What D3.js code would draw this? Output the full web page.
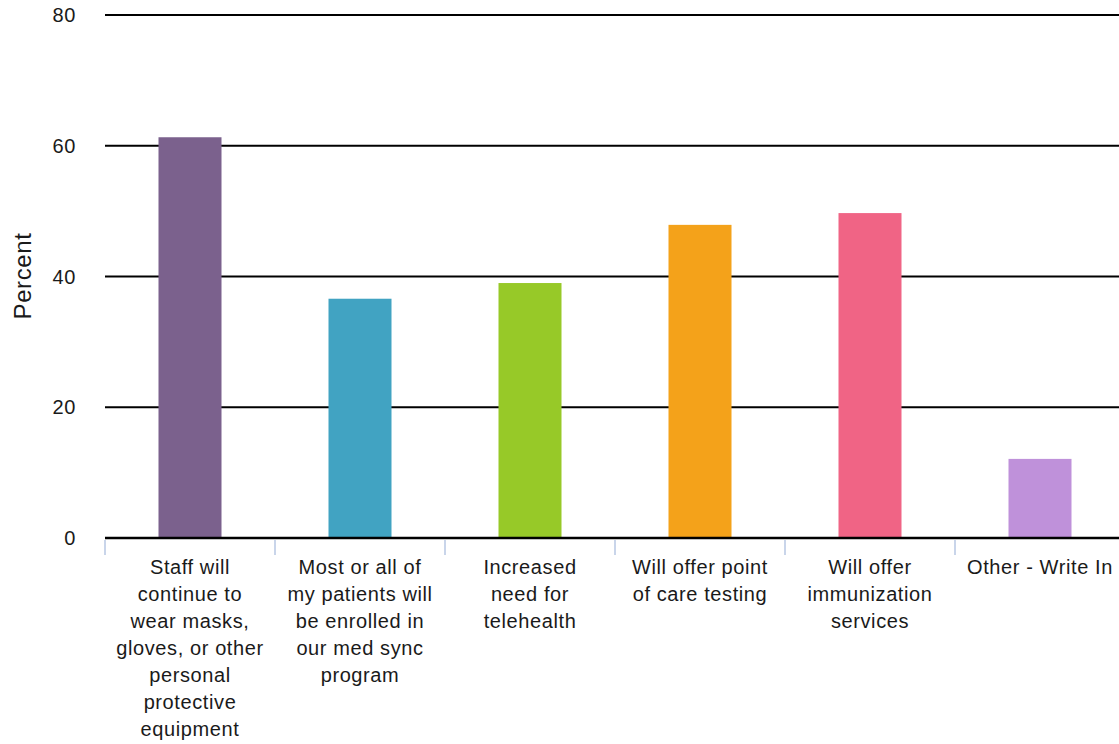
<!DOCTYPE html>
<html>
<head>
<meta charset="utf-8">
<script src="https://cdn.jsdelivr.net/npm/d3@7"></script>
<style>
  body { margin: 0; background: #fff; }
  svg text { font-family: "Liberation Sans", Arial, sans-serif; fill: #1a1a1a; }
</style>
</head>
<body>
<div id="viz"></div>
<script>
// categories (line breaks as in the picture)
var categories = [
  "Staff will\ncontinue to\nwear masks,\ngloves, or other\npersonal\nprotective\nequipment",
  "Most or all of\nmy patients will\nbe enrolled in\nour med sync\nprogram",
  "Increased\nneed for\ntelehealth",
  "Will offer point\nof care testing",
  "Will offer\nimmunization\nservices",
  "Other - Write In"
]
var percents = [61.3, 36.6, 39.0, 47.9, 49.7, 12.1]
var barColors = ["#7b618d", "#41a3c2", "#97c928", "#f4a21a", "#f06485", "#bf91da"]
var yTicks = [0, 20, 40, 60, 80]

function barChart() {
  let width = 1119, height = 744
  let left = 105, top = 15, bottom = 538

  let svg = d3.select('#viz').append('svg')
    .attr('width', width)
    .attr('height', height)

  let xScale = d3.scaleBand()
    .range([left, left + 170 * categories.length])
    .domain(categories)
    .padding(0)

  let yScale = d3.scaleLinear()
    .range([bottom, top])
    .domain([0, 80])

  // horizontal grid lines
  svg.append('g')
    .selectAll('line')
    .data(yTicks)
    .enter()
    .append('line')
    .attr('x1', left)
    .attr('x2', width)
    .attr('y1', (d) => yScale(d))
    .attr('y2', (d) => yScale(d))
    .attr('stroke', '#000')
    .attr('stroke-width', 2)

  // y tick labels
  svg.append('g')
    .selectAll('text')
    .data(yTicks)
    .enter()
    .append('text')
    .attr('x', 76)
    .attr('y', (d) => yScale(d))
    .attr('dy', '0.35em')
    .attr('text-anchor', 'end')
    .style('font-size', '20px')
    .style('letter-spacing', '0.6px')
    .text((d) => d)

  // bars
  let barW = 63
  svg.append('g')
    .selectAll('rect')
    .data(categories)
    .enter()
    .append('rect')
    .attr('x', (d) => xScale(d) + xScale.bandwidth() / 2 - barW / 2)
    .attr('y', (d, i) => yScale(percents[i]))
    .attr('width', barW)
    .attr('height', (d, i) => yScale(0) - yScale(percents[i]))
    .attr('fill', (d, i) => barColors[i])

  // baseline
  svg.append('line')
    .attr('x1', left)
    .attr('x2', width)
    .attr('y1', yScale(0))
    .attr('y2', yScale(0))
    .attr('stroke', '#000')
    .attr('stroke-width', 2.5)

  // x ticks between categories
  svg.append('g')
    .selectAll('line')
    .data(categories)
    .enter()
    .append('line')
    .attr('x1', (d) => xScale(d))
    .attr('x2', (d) => xScale(d))
    .attr('y1', yScale(0) + 2)
    .attr('y2', yScale(0) + 17)
    .attr('stroke', '#c9d5ea')
    .attr('stroke-width', 2)

  // x labels
  let labels = svg.append('g')
    .selectAll('text')
    .data(categories)
    .enter()
    .append('text')
    .attr('text-anchor', 'middle')
    .style('font-size', '20px')
    .style('letter-spacing', '0.6px')

  labels.selectAll('tspan')
    .data((d) => d.split('\n').map((t) => ({ t: t, c: d })))
    .enter()
    .append('tspan')
    .attr('x', (d) => xScale(d.c) + xScale.bandwidth() / 2)
    .attr('y', (d, i) => 574 + i * 27)
    .text((d) => d.t)

  svg.append('text')
    .attr('transform', 'translate(31, 276) rotate(-90)')
    .attr('text-anchor', 'middle')
    .style('font-size', '24px')
    .style('letter-spacing', '0.6px')
    .text('Percent')
}

barChart()
</script>
</body>
</html>
